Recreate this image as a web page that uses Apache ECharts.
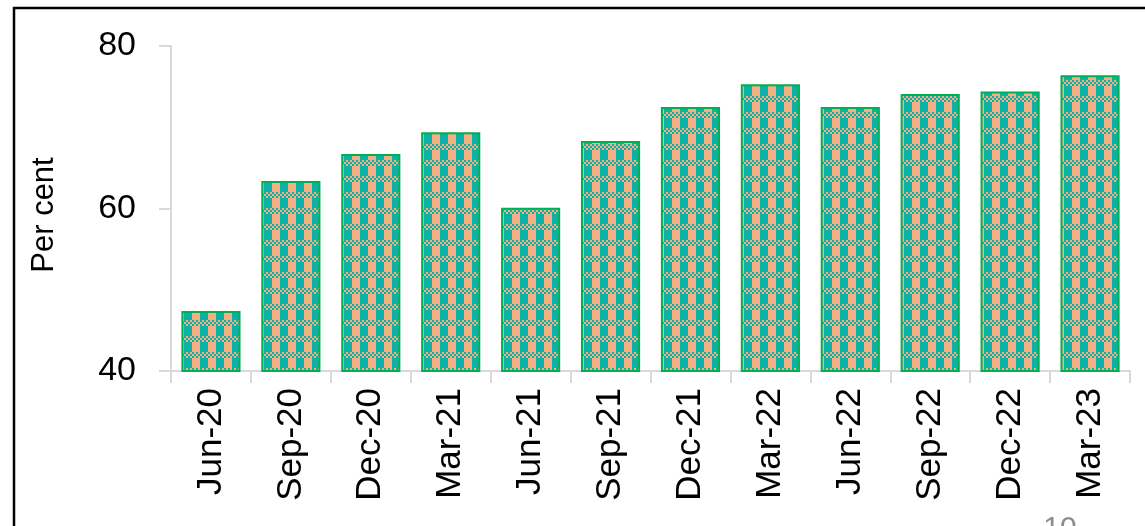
<!DOCTYPE html>
<html>
<head>
<meta charset="utf-8">
<script src="https://cdn.jsdelivr.net/npm/echarts@6/dist/echarts.min.js"></script>
<style>
  html, body { margin: 0; padding: 0; background: #fff; }
  #chart { width: 1145px; height: 526px; }
</style>
</head>
<body>
<div id="chart"></div>
<script>
// Quarter labels and share values (per cent)
const quarters = ['Jun-20', 'Sep-20', 'Dec-20', 'Mar-21', 'Jun-21', 'Sep-21',
                  'Dec-21', 'Mar-22', 'Jun-22', 'Sep-22', 'Dec-22', 'Mar-23'];
const shares = [47.4, 63.4, 66.7, 69.4, 60.1, 68.3, 72.5, 75.3, 72.5, 74.1, 74.4, 76.4];
const yTicks = [40, 60, 80];
const pageNumber = '10';

// Plaid fill: a fine checker band over alternating peach / teal columns
const TEAL = '#0BB0A6';
const PEACH = '#F4B082';
function plaidTile() {
  const c = document.createElement('canvas');
  c.width = 16; c.height = 16;
  const g = c.getContext('2d');
  for (let y = 0; y < 16; y++) {
    for (let x = 0; x < 16; x++) {
      let col;
      if (y < 6) {
        col = ((Math.floor(x / 2) + Math.floor(y / 2)) % 2 === 0) ? TEAL : PEACH;
      } else {
        col = x < 8 ? PEACH : TEAL;
      }
      g.fillStyle = col;
      g.fillRect(x, y, 1, 1);
    }
  }
  return c;
}

const chart = echarts.init(document.getElementById('chart'), null, { renderer: 'canvas' });
const FONT = 'Liberation Sans';

chart.setOption({
  animation: false,
  backgroundColor: '#ffffff',
  grid: { left: 171, right: 15, top: 46, bottom: 155, containLabel: false },
  xAxis: {
    type: 'category',
    data: quarters,
    boundaryGap: true,
    axisLine: { show: true, lineStyle: { color: '#D9D9D9', width: 2 } },
    axisTick: { show: true, length: 12, inside: false, alignWithLabel: false,
                lineStyle: { color: '#D9D9D9', width: 2 } },
    axisLabel: { rotate: 90, margin: 17, color: '#000', fontSize: 35, fontFamily: FONT,
                 interval: 0 },
    splitLine: { show: false }
  },
  yAxis: {
    type: 'value',
    min: yTicks[0],
    max: yTicks[yTicks.length - 1],
    interval: yTicks[1] - yTicks[0],
    axisLine: { show: true, lineStyle: { color: '#D9D9D9', width: 2 } },
    axisTick: { show: true, length: 12, inside: false, lineStyle: { color: '#D9D9D9', width: 2 } },
    axisLabel: { margin: 35, color: '#000', fontSize: 34, fontFamily: FONT },
    splitLine: { show: false }
  },
  series: [{
    type: 'bar',
    data: shares,
    barCategoryGap: '26%',
    itemStyle: {
      color: { image: plaidTile(), repeat: 'repeat' },
      borderColor: '#00B050',
      borderWidth: 2
    }
  }],
  graphic: [
    {
      type: 'rect',
      silent: true,
      shape: { x: 14, y: 8, width: 1300, height: 700 },
      style: { fill: null, stroke: '#000', lineWidth: 2.5 }
    },
    {
      type: 'text',
      silent: true,
      x: 44, y: 215,
      rotation: Math.PI / 2,
      style: { text: 'Per cent', fontSize: 31, fontFamily: FONT, fill: '#000',
               align: 'center', verticalAlign: 'middle' }
    },
    {
      type: 'text',
      silent: true,
      x: 1060, y: 514,
      style: { text: pageNumber, fontSize: 30, fontFamily: FONT, fill: '#8C8C8C',
               align: 'center', verticalAlign: 'top' }
    }
  ]
});
</script>
</body>
</html>
